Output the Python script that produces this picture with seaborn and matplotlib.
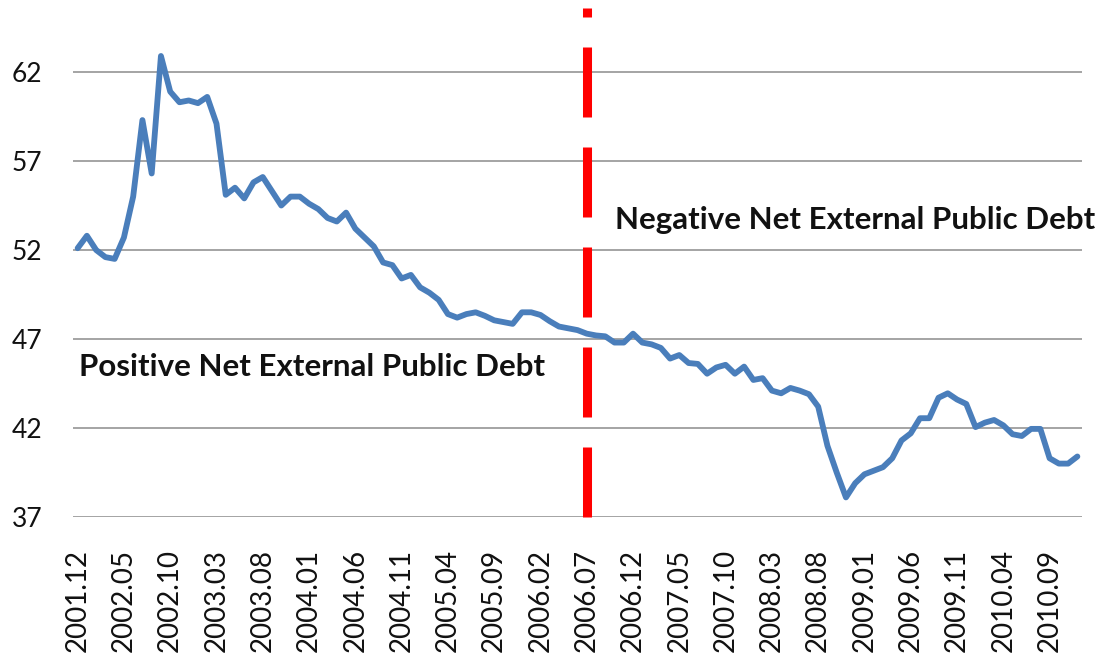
import pandas as pd
import numpy as np
import matplotlib
matplotlib.use("Agg")
import matplotlib.pyplot as plt
import seaborn as sns

sns.set_theme(style="white")
plt.rcParams['font.family'] = ['Lato', 'DejaVu Sans']
plt.rcParams['lines.scale_dashes'] = False

# monthly series, 2001.12 - 2010.12
months = [p.strftime('%Y.%m') for p in pd.period_range('2001-12', '2010-12', freq='M')]
values = [52.1, 52.8, 52.0, 51.6, 51.5, 52.7, 55.0, 59.3, 56.3, 62.9,
          60.9, 60.3, 60.4, 60.25, 60.6, 59.1, 55.1, 55.5, 54.9, 55.8,
          56.1, 55.3, 54.5, 55.0, 55.0, 54.6, 54.3, 53.8, 53.6, 54.1,
          53.2, 52.7, 52.2, 51.3, 51.15, 50.4, 50.6, 49.9, 49.6, 49.2,
          48.4, 48.2, 48.4, 48.5, 48.3, 48.05, 47.95, 47.85, 48.5, 48.5,
          48.35, 48.0, 47.7, 47.6, 47.5, 47.3, 47.2, 47.15, 46.8, 46.8,
          47.3, 46.8, 46.7, 46.5, 45.9, 46.1, 45.65, 45.6, 45.05, 45.4,
          45.55, 45.05, 45.45, 44.7, 44.8, 44.1, 43.95, 44.25, 44.1, 43.9,
          43.2, 41.0, 39.5, 38.1, 38.9, 39.4, 39.6, 39.8, 40.3, 41.3,
          41.7, 42.55, 42.55, 43.7, 43.95, 43.6, 43.35, 42.05, 42.3, 42.45,
          42.15, 41.65, 41.55, 41.95, 41.95, 40.3, 40.0, 40.0, 40.4]
yticks = [37, 42, 47, 52, 57, 62]
break_month = '2006.07'

df = pd.DataFrame({'pos': np.arange(len(months)), 'month': months, 'value': values})

fig = plt.figure(figsize=(11.05, 6.54), dpi=100)
ax = fig.add_axes([73/1105, 137/654, (1082-73)/1105, 517/654])

for y in yticks:
    ax.axhline(y, color='#8c8c8c', lw=1.1, zorder=1)

sns.lineplot(data=df, x='pos', y='value', ax=ax, color='#4a7ebb', lw=4.2,
             solid_joinstyle='round', solid_capstyle='round', zorder=3)

# structural break line
bx = months.index(break_month)
ax.plot([bx, bx], [37, 65.6], color='#ff0000', lw=6.5, dashes=(50.4, 21.6),
        solid_capstyle='butt', dash_capstyle='butt', zorder=4, clip_on=False)

ax.text(0.2, 45.4, 'Positive Net External Public Debt', fontsize=22.5,
        fontweight='bold', va='center', ha='left', color='#111111')
ax.text(58.0, 53.7, 'Negative Net External Public Debt', fontsize=22.5,
        fontweight='bold', va='center', ha='left', color='#111111')

ax.set_xlim(-0.5, len(months) - 0.5)
ax.set_ylim(37, 37 + 517/17.8)
ax.set_yticks(yticks)
ax.set_yticklabels([str(v) for v in yticks])
ax.set_xticks(df['pos'][::5])
ax.set_xticklabels(df['month'][::5], rotation=90)
ax.tick_params(axis='y', length=0, pad=22, labelsize=19, labelcolor='#111111')
ax.tick_params(axis='x', length=0, pad=23, labelsize=20, labelcolor='#111111')
ax.set_xlabel('')
ax.set_ylabel('')
sns.despine(ax=ax, left=True, bottom=True)

fig.savefig('out.png', dpi=100)
